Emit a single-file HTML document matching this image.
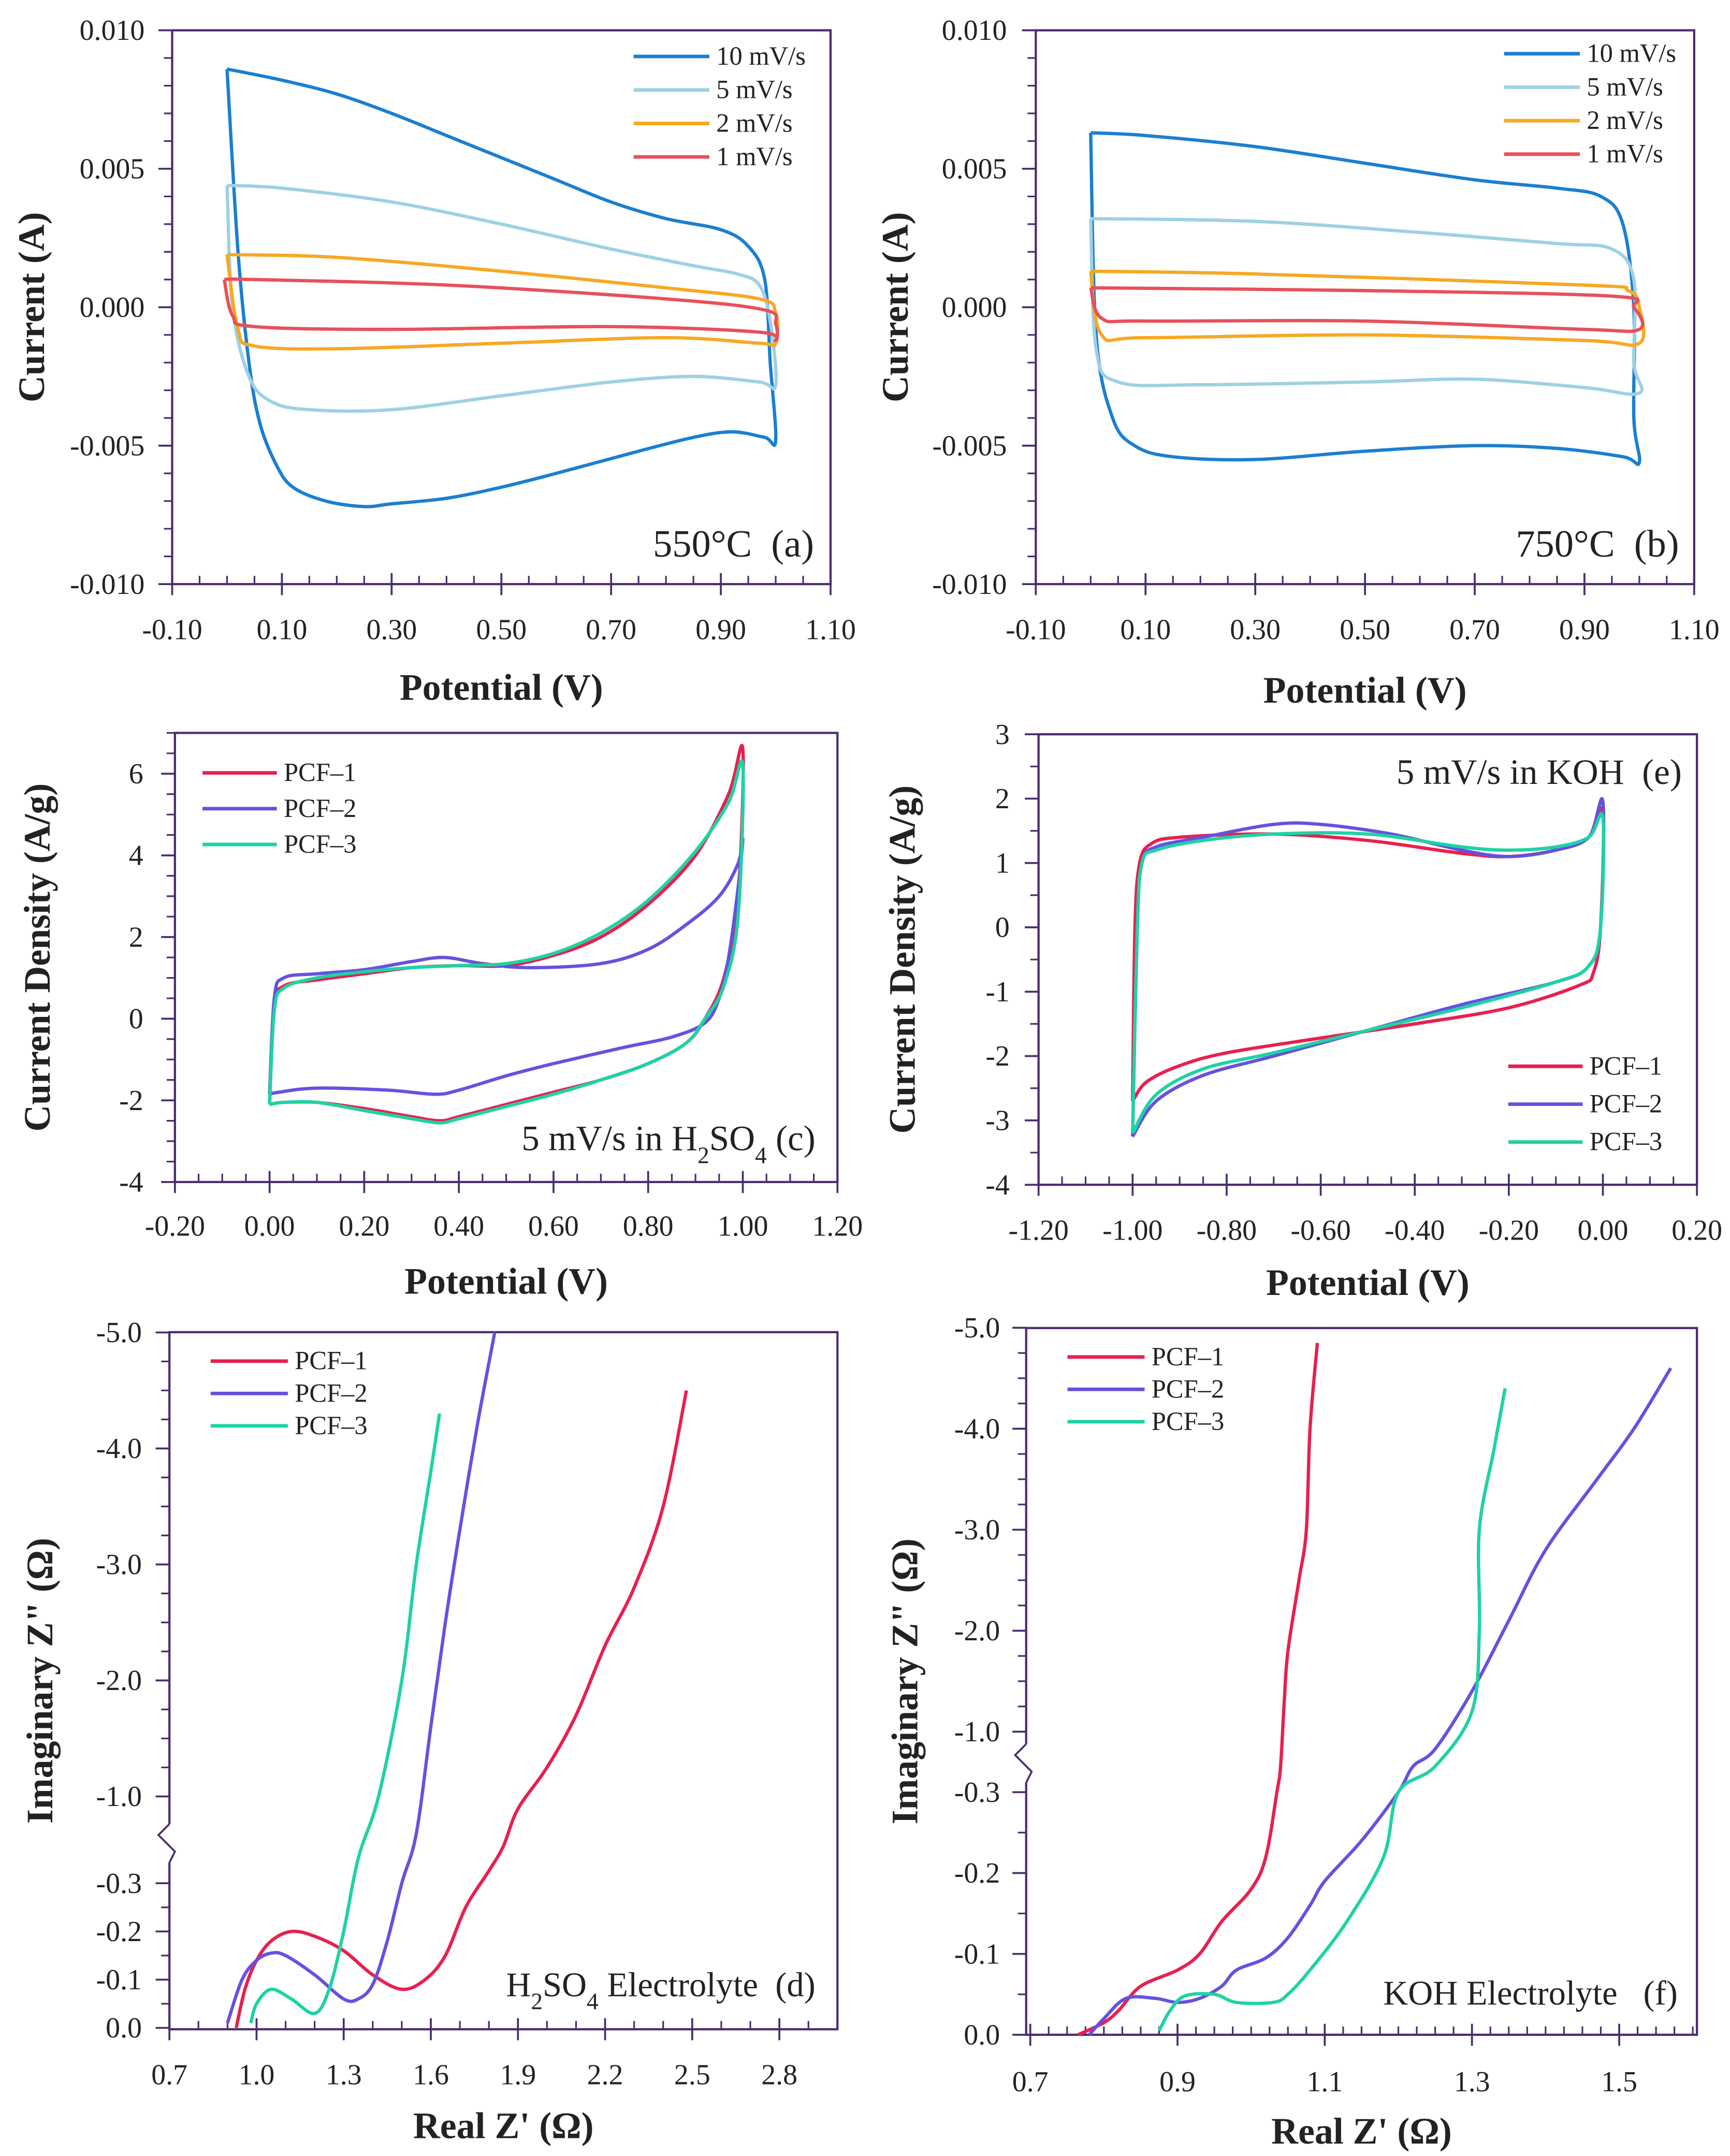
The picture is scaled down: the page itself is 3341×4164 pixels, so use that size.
<!DOCTYPE html>
<html><head><meta charset="utf-8"><style>html,body{margin:0;padding:0;background:#fff}svg{display:block}text{font-family:"Liberation Serif",serif;fill:#222}</style></head>
<body>
<svg id="fig" xmlns="http://www.w3.org/2000/svg" width="3341" height="4164" viewBox="0 0 1256 1565" preserveAspectRatio="none"></svg>
<script>
// ---------- DATA ----------
const aLabels=["10 mV/s","5 mV/s","2 mV/s","1 mV/s"];
const a10=[[0,0.0086],[0.1,0.0082],[0.2,0.0077],[0.3,0.0070],[0.4,0.0062],[0.5,0.0054],[0.6,0.0046],[0.7,0.0038],[0.8,0.0032],[0.9,0.0028],[0.95,0.0022],[0.98,0.001],[0.99,-0.002],[1.0,-0.0048],[0.98,-0.0047],[0.92,-0.0045],[0.85,-0.0047],[0.75,-0.0052],[0.6,-0.006],[0.5,-0.0065],[0.4,-0.0069],[0.3,-0.0071],[0.25,-0.0072],[0.18,-0.007],[0.12,-0.0065],[0.09,-0.0057],[0.06,-0.0042],[0.04,-0.002],[0.02,0.002],[0,0.0086]];
const a5=[[0,0.0044],[0.1,0.0043],[0.3,0.0038],[0.5,0.0030],[0.7,0.0021],[0.85,0.0015],[0.93,0.0012],[0.97,0.0008],[0.99,-0.0005],[1.0,-0.0028],[0.97,-0.0027],[0.85,-0.0025],[0.7,-0.0027],[0.5,-0.0032],[0.3,-0.0037],[0.15,-0.0037],[0.08,-0.0034],[0.04,-0.0025],[0.01,0],[0,0.0044]];
const a2=[[0,0.0019],[0.2,0.0018],[0.5,0.0013],[0.8,0.0007],[0.97,0.0003],[1.0,-0.0002],[1.0,-0.0013],[0.97,-0.0013],[0.8,-0.0011],[0.5,-0.0013],[0.2,-0.0015],[0.05,-0.0014],[0.02,-0.0008],[0,0.0019]];
const a1=[[-0.005,0.0010],[0.05,0.0010],[0.4,0.0008],[0.8,0.0003],[0.98,-0.0001],[1.0,-0.0006],[1.0,-0.0012],[0.97,-0.0009],[0.7,-0.0007],[0.3,-0.0008],[0.05,-0.0007],[0.01,-0.0003],[-0.005,0.0010]];
const b10=[[0,0.0063],[0.1,0.0062],[0.3,0.0058],[0.5,0.0052],[0.7,0.0046],[0.85,0.0043],[0.93,0.0040],[0.97,0.0030],[0.99,0],[0.99,-0.004],[1.0,-0.0056],[0.97,-0.0054],[0.85,-0.0051],[0.7,-0.0050],[0.5,-0.0052],[0.3,-0.0055],[0.15,-0.0054],[0.08,-0.0050],[0.04,-0.0040],[0.01,-0.001],[0,0.0063]];
const b5=[[0,0.0032],[0.3,0.0031],[0.6,0.0027],[0.85,0.0023],[0.95,0.0021],[0.99,0.0010],[0.99,-0.002],[1.0,-0.0031],[0.9,-0.0029],[0.7,-0.0026],[0.5,-0.0027],[0.2,-0.0028],[0.05,-0.0027],[0.01,-0.0015],[0,0.0032]];
const b2=[[0,0.0013],[0.3,0.0012],[0.9,0.0008],[0.98,0.0006],[1.0,0],[1.0,-0.0013],[0.9,-0.0012],[0.5,-0.0010],[0.1,-0.0011],[0.02,-0.0010],[0,0.0013]];
const b1=[[0,0.0007],[0.5,0.0006],[0.95,0.0004],[0.99,0],[1.0,-0.0008],[0.9,-0.0008],[0.5,-0.0005],[0.1,-0.0005],[0.02,-0.0004],[0,0.0007]];
const pcfLabels=["PCF\u20131","PCF\u20132","PCF\u20133"];
const c1=[[0,-2.1],[0.01,0.3],[0.03,0.8],[0.1,0.95],[0.2,1.1],[0.3,1.25],[0.4,1.3],[0.5,1.3],[0.6,1.55],[0.7,2.0],[0.8,2.8],[0.9,4.0],[0.97,5.5],[1.0,6.6],[0.99,3.0],[0.96,1.0],[0.92,0],[0.88,-0.6],[0.8,-1.1],[0.7,-1.5],[0.6,-1.8],[0.5,-2.1],[0.4,-2.4],[0.36,-2.5],[0.3,-2.4],[0.2,-2.2],[0.1,-2.05],[0.03,-2.05],[0,-2.1]];
const c2=[[0,-1.85],[0.01,0.5],[0.03,1.0],[0.1,1.1],[0.2,1.2],[0.3,1.4],[0.37,1.5],[0.45,1.35],[0.55,1.25],[0.7,1.35],[0.8,1.7],[0.88,2.3],[0.95,3.0],[0.99,3.8],[1.0,4.4],[0.99,3.2],[0.97,1.5],[0.95,0.5],[0.92,-0.1],[0.85,-0.45],[0.75,-0.7],[0.6,-1.1],[0.5,-1.4],[0.4,-1.75],[0.35,-1.85],[0.25,-1.75],[0.1,-1.7],[0.02,-1.8],[0,-1.85]];
const c3=[[0,-2.1],[0.01,0.2],[0.03,0.75],[0.1,1.0],[0.2,1.15],[0.3,1.25],[0.4,1.3],[0.5,1.35],[0.6,1.6],[0.7,2.1],[0.8,2.9],[0.9,4.1],[0.97,5.3],[1.0,6.2],[0.99,2.5],[0.96,0.8],[0.92,0],[0.88,-0.6],[0.8,-1.1],[0.7,-1.5],[0.6,-1.85],[0.5,-2.15],[0.4,-2.45],[0.36,-2.55],[0.3,-2.45],[0.2,-2.25],[0.1,-2.05],[0.03,-2.05],[0,-2.1]];
const e1=[[-1.0,-2.7],[-0.995,0],[-0.985,1.0],[-0.96,1.3],[-0.9,1.4],[-0.7,1.45],[-0.5,1.35],[-0.3,1.15],[-0.2,1.1],[-0.1,1.2],[-0.03,1.4],[0,1.8],[-0.005,0],[-0.02,-0.7],[-0.05,-0.9],[-0.2,-1.25],[-0.4,-1.5],[-0.6,-1.72],[-0.8,-1.95],[-0.9,-2.15],[-0.97,-2.4],[-1.0,-2.7]];
const e2=[[-1.0,-3.25],[-0.99,0],[-0.98,1.0],[-0.95,1.25],[-0.85,1.4],[-0.7,1.6],[-0.6,1.6],[-0.45,1.45],[-0.3,1.2],[-0.2,1.1],[-0.1,1.2],[-0.03,1.4],[0,1.95],[-0.005,0],[-0.03,-0.6],[-0.1,-0.85],[-0.3,-1.2],[-0.5,-1.6],[-0.7,-2.0],[-0.85,-2.3],[-0.95,-2.7],[-1.0,-3.25]];
const e3=[[-1.0,-3.2],[-0.99,0],[-0.98,1.0],[-0.95,1.2],[-0.85,1.35],[-0.7,1.45],[-0.5,1.45],[-0.3,1.25],[-0.2,1.2],[-0.1,1.25],[-0.03,1.4],[0,1.7],[-0.005,0],[-0.03,-0.6],[-0.1,-0.85],[-0.3,-1.25],[-0.5,-1.6],[-0.7,-1.95],[-0.85,-2.2],[-0.95,-2.6],[-1.0,-3.2]];
const d1=[[0.93,0],[0.96,0.08],[1.0,0.14],[1.05,0.18],[1.12,0.2],[1.2,0.19],[1.3,0.16],[1.4,0.11],[1.5,0.08],[1.58,0.1],[1.65,0.15],[1.72,0.25],[1.8,0.4],[1.85,0.6],[1.9,0.9],[2.0,1.25],[2.1,1.7],[2.2,2.3],[2.3,2.8],[2.4,3.5],[2.48,4.5]];
const d2=[[0.9,0.01],[0.95,0.1],[1.0,0.14],[1.05,0.155],[1.1,0.15],[1.2,0.11],[1.3,0.06],[1.35,0.06],[1.4,0.09],[1.45,0.18],[1.5,0.3],[1.55,0.7],[1.6,1.6],[1.65,2.5],[1.7,3.3],[1.76,4.2],[1.82,5.0]];
const d3=[[0.98,0.01],[1.0,0.05],[1.05,0.08],[1.12,0.06],[1.2,0.03],[1.25,0.08],[1.3,0.2],[1.35,0.5],[1.42,1.0],[1.5,2.0],[1.55,3.0],[1.6,3.8],[1.63,4.3]];
const f1=[[0.765,0],[0.8,0.015],[0.82,0.03],[0.85,0.06],[0.9,0.08],[0.93,0.1],[0.96,0.14],[1.0,0.18],[1.02,0.22],[1.035,0.3],[1.04,0.6],[1.045,1.3],[1.05,1.8],[1.065,2.5],[1.075,3.0],[1.08,4.0],[1.09,4.85]];
const f2=[[0.78,0],[0.8,0.02],[0.83,0.045],[0.87,0.045],[0.9,0.04],[0.93,0.045],[0.96,0.06],[0.98,0.08],[1.02,0.095],[1.05,0.12],[1.08,0.16],[1.1,0.19],[1.15,0.24],[1.2,0.3],[1.22,0.6],[1.25,0.8],[1.3,1.4],[1.35,2.1],[1.4,2.8],[1.47,3.5],[1.52,4.0],[1.57,4.6]];
const f3=[[0.875,0.005],[0.89,0.03],[0.91,0.048],[0.95,0.05],[0.98,0.04],[1.03,0.04],[1.05,0.05],[1.08,0.08],[1.13,0.14],[1.18,0.22],[1.2,0.3],[1.25,0.6],[1.3,1.2],[1.31,2.0],[1.31,3.0],[1.33,3.8],[1.345,4.4]];
const cvXTicks=["-0.10","0.10","0.30","0.50","0.70","0.90","1.10"];
const cvYTicks=["-0.010","-0.005","0.000","0.005","0.010"];
const cXTicks=["-0.20","0.00","0.20","0.40","0.60","0.80","1.00","1.20"];
const cYTicks=["-4","-2","0","2","4","6"];
const eXTicks=["-1.20","-1.00","-0.80","-0.60","-0.40","-0.20","0.00","0.20"];
const eYTicks=["-4","-3","-2","-1","0","1","2","3"];
const dXTicks=["0.7","1.0","1.3","1.6","1.9","2.2","2.5","2.8"];
const fXTicks=["0.7","0.9","1.1","1.3","1.5"];
const zLowTicks=["0.0","-0.1","-0.2","-0.3"];
const zHighTicks=["-1.0","-2.0","-3.0","-4.0","-5.0"];

// ---------- DRAW ----------
const NS="http://www.w3.org/2000/svg", svg=document.getElementById('fig');
const AX="#4b2d6e";
const COLA=["#1b7fd1","#9fd0e3","#f7a823","#e8505b"], COLP=["#e8204f","#6552df","#1fd2a4"];
const TK=21;
function mk(tag,attrs,parent){const e=document.createElementNS(NS,tag);for(const k in attrs)e.setAttribute(k,attrs[k]);(parent||svg).appendChild(e);return e;}
function txt(s,x,y,size,anchor,parent,bold){const t=mk('text',{x:x,y:y,'font-size':size,'text-anchor':anchor||'middle'},parent);if(bold)t.setAttribute('font-weight','bold');t.textContent=s;return t;}
function lin(lo,hi,p0,p1){return v=>p0+(v-lo)/(hi-lo)*(p1-p0);}
function smooth(pts){
  let d='M'+pts[0][0].toFixed(2)+','+pts[0][1].toFixed(2);
  for(let i=0;i<pts.length-1;i++){
    const p0=pts[Math.max(0,i-1)],p1=pts[i],p2=pts[i+1],p3=pts[Math.min(pts.length-1,i+2)];
    const k=1/6;
    const c1=[p1[0]+(p2[0]-p0[0])*k,p1[1]+(p2[1]-p0[1])*k];
    const c2=[p2[0]-(p3[0]-p1[0])*k,p2[1]-(p3[1]-p1[1])*k];
    d+=' C'+c1[0].toFixed(2)+','+c1[1].toFixed(2)+' '+c2[0].toFixed(2)+','+c2[1].toFixed(2)+' '+p2[0].toFixed(2)+','+p2[1].toFixed(2);
  }
  return d;
}

function panel(P){
  const g=mk('g',{});
  
  
  const box=mk('rect',{x:P.L,y:P.T,width:P.R-P.L,height:P.B-P.T,fill:'none',stroke:AX,'stroke-width':1.6},g);
  
  
  const xg=mk('g',{},g);
  
  
  for(let v=P.xmin;v<=P.xmax+1e-9;v+=P.xminor){mk('line',{x1:P.sx(v),x2:P.sx(v),y1:P.B,y2:P.B-6,stroke:AX,'stroke-width':1.2},xg);}
  P.xt.forEach(s=>{const v=parseFloat(s);mk('line',{x1:P.sx(v),x2:P.sx(v),y1:P.B-8,y2:P.B+8,stroke:AX,'stroke-width':1.4},xg);const t=txt(s,P.sx(v),P.xly,TK,'middle',xg);});
  const yg=mk('g',{},g);
  
  
  P.yticks(yg);
  const xt=txt(P.xtitle,(P.L+P.R)/2,P.xty,27,'middle',g,true);
  
  
  const yt=txt(P.ytitle,0,0,27,'middle',g,true);
  yt.setAttribute('transform','translate('+P.ytx+','+(P.B+P.T)/2+') rotate(-90)');
  
  
  P.series.forEach((s,i)=>{
    const pts=s.map(p=>[P.sx(p[0]),P.sy(p[1])]);
    const path=mk('path',{d:smooth(pts),fill:'none',stroke:P.cols[i],'stroke-width':2.4,'stroke-linejoin':'round'},g);
    
    
  });
  const lg=mk('g',{},g);
  
  
  P.labels.forEach((l,i)=>{const y=P.leg[2]+i*P.leg[3];
    const ln=mk('line',{x1:P.leg[0],x2:P.leg[1],y1:y,y2:y,stroke:P.cols[i],'stroke-width':2.6},lg);
    
    
    const t=txt(l,P.leg[1]+5,y+6,19,'start',lg);
    
    });
  const an=mk('text',{x:P.ann[0],y:P.ann[1],'font-size':P.ann[3],'text-anchor':'end'},g);
  an.innerHTML=P.ann[2];
  
  
}
function simpleY(P,labels,minor,fmtX){return yg=>{
  for(let v=P.ymin;v<=P.ymax+1e-9;v+=minor){mk('line',{x1:P.L-6,x2:P.L,y1:P.sy(v),y2:P.sy(v),stroke:AX,'stroke-width':1.2},yg);}
  labels.forEach(s=>{const v=parseFloat(s);mk('line',{x1:P.L-10,x2:P.L,y1:P.sy(v),y2:P.sy(v),stroke:AX,'stroke-width':1.4},yg);const t=txt(s,fmtX,P.sy(v)+7,TK,'end',yg);});
};}
function brokenY(P,lab,breakY){return yg=>{
  zLowTicks.forEach(s=>{const v=-parseFloat(s);const y=P.sy(v);mk('line',{x1:P.L-10,x2:P.L,y1:y,y2:y,stroke:AX,'stroke-width':1.4},yg);const t=txt(s,lab,y+7,TK,'end',yg);});
  for(let v=0.05;v<0.3;v+=0.1){const y=P.sy(v);mk('line',{x1:P.L-6,x2:P.L,y1:y,y2:y,stroke:AX,'stroke-width':1.2},yg);}
  zHighTicks.forEach(s=>{const v=-parseFloat(s);const y=P.sy(v);mk('line',{x1:P.L-10,x2:P.L,y1:y,y2:y,stroke:AX,'stroke-width':1.4},yg);const t=txt(s,lab,y+7,TK,'end',yg);});
  for(let v=1.25;v<5;v+=0.25){if(Math.abs(v-Math.round(v))<1e-6)continue;const y=P.sy(v);mk('line',{x1:P.L-6,x2:P.L,y1:y,y2:y,stroke:AX,'stroke-width':1.2},yg);}
  mk('rect',{x:P.L-3,y:breakY-14,width:6,height:28,fill:'#fff'},yg);
  const br=mk('path',{d:'M'+P.L+','+(breakY-14)+' l-8,8 l12,12 l-4,8',fill:'none',stroke:AX,'stroke-width':1.4},yg);
  
  
};}

let P={name:'panel-a',L:125,R:603,T:22,B:424,xmin:-0.1,xmax:1.1,ymin:-0.01,ymax:0.01,xminor:0.05};
P.sx=lin(-0.1,1.1,125,603);P.sy=lin(-0.01,0.01,424,22);P.xt=cvXTicks;P.xly=464;P.xtitle='Potential (V)';P.xty=508;P.ytitle='Current (A)';P.ytx=32;
P.yticks=simpleY(P,cvYTicks,0.001,105);P.series=[a10,a5,a2,a1];P.cols=COLA;P.labels=aLabels;P.leg=[460,515,41,24.3];P.ann=[591,404,'550°C&#160;&#160;(a)',28];
panel(P);
P={name:'panel-b',L:752,R:1230,T:22,B:424,xmin:-0.1,xmax:1.1,ymin:-0.01,ymax:0.01,xminor:0.05};
P.sx=lin(-0.1,1.1,752,1230);P.sy=lin(-0.01,0.01,424,22);P.xt=cvXTicks;P.xly=464;P.xtitle='Potential (V)';P.xty=510;P.ytitle='Current (A)';P.ytx=659;
P.yticks=simpleY(P,cvYTicks,0.001,731);P.series=[b10,b5,b2,b1];P.cols=COLA;P.labels=aLabels;P.leg=[1092,1147,39,24.3];P.ann=[1219,404,'750°C&#160;&#160;(b)',28];
panel(P);
P={name:'panel-c',L:127,R:608,T:532,B:858,xmin:-0.2,xmax:1.2,ymin:-4,ymax:7,xminor:0.05};
P.sx=lin(-0.2,1.2,127,608);P.sy=lin(-4,7,858,532);P.xt=cXTicks;P.xly=897;P.xtitle='Potential (V)';P.xty=939;P.ytitle='Current Density (A/g)';P.ytx=36;
P.yticks=simpleY(P,cYTicks,0.5,104);P.series=[c1,c2,c3];P.cols=COLP;P.labels=pcfLabels;P.leg=[147,201,561,26];P.ann=[592,835,'5 mV/s in H<tspan baseline-shift="sub" font-size="17">2</tspan>SO<tspan baseline-shift="sub" font-size="17">4</tspan> (c)',26];
panel(P);
P={name:'panel-e',L:754,R:1232,T:533,B:860,xmin:-1.2,xmax:0.2,ymin:-4,ymax:3,xminor:0.05};
P.sx=lin(-1.2,0.2,754,1232);P.sy=lin(-4,3,860,533);P.xt=eXTicks;P.xly=900;P.xtitle='Potential (V)';P.xty=940;P.ytitle='Current Density (A/g)';P.ytx=664;
P.yticks=simpleY(P,eYTicks,0.5,733);P.series=[e1,e2,e3];P.cols=COLP;P.labels=pcfLabels;P.leg=[1095,1149,774,27.5];P.ann=[1221,569,'5 mV/s in KOH&#160;&#160;(e)',26];
panel(P);
P={name:'panel-d',L:123,R:608,T:967,B:1473,xmin:0.7,xmax:3.0,ymin:0,ymax:5,xminor:0.1};
P.sx=lin(0.7,3.0,123,608);
P.sy=v=>v<=0.3?1472-v*350:(v>=1?1304-(v-1)*84.2:1367-(v-0.3)/0.7*63);
P.xt=dXTicks;P.xly=1513;P.xtitle="Real Z' (\u03A9)";P.xty=1552;P.ytitle='Imaginary Z" (\u03A9)';P.ytx=38;
P.yticks=brokenY(P,103,1338);P.series=[d1,d2,d3];P.cols=COLP;P.labels=pcfLabels;P.leg=[153,209,988,23.5];P.ann=[592,1449,'H<tspan baseline-shift="sub" font-size="17">2</tspan>SO<tspan baseline-shift="sub" font-size="17">4</tspan> Electrolyte&#160;&#160;(d)',25];
panel(P);
P={name:'panel-f',L:745,R:1232,T:964,B:1477,xmin:0.7,xmax:1.6,ymin:0,ymax:5,xminor:0.025};
P.sx=lin(0.7,1.6,748,1229);
P.sy=v=>v<=0.3?1477-v*587:(v>=1?1257-(v-1)*73.3:1301-(v-0.3)/0.7*44);
P.xt=fXTicks;P.xly=1518;P.xtitle="Real Z' (\u03A9)";P.xty=1556;P.ytitle='Imaginary Z" (\u03A9)';P.ytx=666;
P.yticks=brokenY(P,726,1280);P.series=[f1,f2,f3];P.cols=COLP;P.labels=pcfLabels;P.leg=[775,831,985,23.5];P.ann=[1218,1455,'KOH Electrolyte&#160;&#160;&#160;(f)',25];
panel(P);
</script>
</body></html>
